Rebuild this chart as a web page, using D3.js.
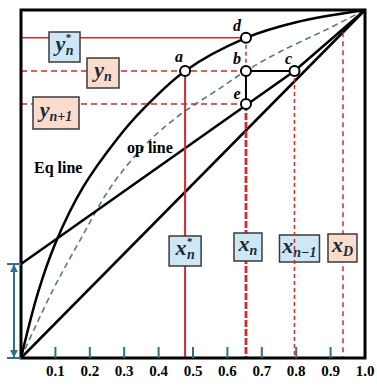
<!DOCTYPE html>
<html>
<head>
<meta charset="utf-8">
<script src="https://cdn.jsdelivr.net/npm/d3@7"></script>
<style>
  body { margin: 0; background: #fff; }
  svg text { font-family: "Liberation Serif", "DejaVu Serif", serif; }
</style>
</head>
<body>
<div id="chart"></div>
<script>
// equilibrium curve
const eqX = [0, 0.05, 0.10, 0.18, 0.28, 0.35, 0.477, 0.654, 0.80, 1];
const eqY = [0, 0.19, 0.33, 0.49, 0.63, 0.71, 0.825, 0.920, 0.965, 1];
// dashed (pseudo-equilibrium) curve
const dashX = [0, 0.09, 0.172, 0.26, 0.355, 0.45, 0.578, 0.654, 0.753, 0.88, 1];
const dashY = [0, 0.19, 0.339, 0.49, 0.606, 0.69, 0.775, 0.825, 0.88, 0.94, 1];
// operating line
const opX = [0, 0.795, 1];
const opY = [0.27, 0.825, 1];

const tickValues = [0.1, 0.2, 0.3, 0.4, 0.5, 0.6, 0.7, 0.8, 0.9, 1.0];
const tickLabels = ["0.1", "0.2", "0.3", "0.4", "0.5", "0.6", "0.7", "0.8", "0.9", "1.0"];

// key compositions
const xStar = 0.477, xn = 0.654, xn1 = 0.795, xD = 0.936;
const yStar = 0.920, yn = 0.825, yn1 = 0.730;
const intercept = 0.27;

const pointNames = ["a", "b", "c", "d", "e"];
const pointX = [xStar, xn, xn1, xn, xn];
const pointY = [yn, yn, yn, yStar, yn1];

const width = 377, height = 386;
const red = "#d42a2a", teal = "#2f6f8f";
const blueFill = "#cde7f5", peachFill = "#f9dccb";

const x = d3.scaleLinear().domain([0, 1]).range([21, 365]);
const y = d3.scaleLinear().domain([0, 1]).range([358, 10]);

let svg = d3.select("#chart").append("svg")
    .attr("width", width)
    .attr("height", height);

let line = d3.line().x(d => x(d[0])).y(d => y(d[1]));
let smooth = d3.line().x(d => x(d[0])).y(d => y(d[1])).curve(d3.curveCatmullRom.alpha(0.5));

// diagonal
svg.append("path").attr("d", line([[0, 0], [1, 1]]))
    .attr("fill", "none").attr("stroke", "#000").attr("stroke-width", 2.5);

// dashed curve
svg.append("path").attr("d", smooth(dashX.map((v, i) => [v, dashY[i]])))
    .attr("fill", "none").attr("stroke", "#557a8a").attr("stroke-width", 1.6)
    .attr("stroke-dasharray", "6,4");

// eq curve
svg.append("path").attr("d", smooth(eqX.map((v, i) => [v, eqY[i]])))
    .attr("fill", "none").attr("stroke", "#000").attr("stroke-width", 2.5);

// op line
svg.append("path").attr("d", line(opX.map((v, i) => [v, opY[i]])))
    .attr("fill", "none").attr("stroke", "#000").attr("stroke-width", 2.5);

// red guide lines
function guide(p, opts) {
    svg.append("path").attr("d", line(p))
        .attr("fill", "none").attr("stroke", red)
        .attr("stroke-width", opts.w || 1.5)
        .attr("stroke-dasharray", opts.dash || null);
}
guide([[0, yStar], [xn, yStar]], {});
guide([[0, yn], [xn, yn]], { dash: "6,4" });
guide([[0, yn1], [xn, yn1]], { dash: "6,4" });
guide([[xStar, yn], [xStar, 0]], { w: 2 });
guide([[xn, yStar], [xn, yn]], { w: 1.5, dash: "4,3" });
guide([[xn, yn1], [xn, 0]], { w: 2.8, dash: "7,2" });
guide([[xD, xD], [xD, 0]], { w: 1.5, dash: "5,4" });

// b-c and b-e segments
svg.append("path").attr("d", line([[xn1, yn], [xn, yn], [xn, yn1]]))
    .attr("fill", "none").attr("stroke", "#000").attr("stroke-width", 2);

// frame
svg.append("path")
    .attr("d", `M${x(0)},${y(1)}H${x(1)}V${y(0)}H${x(0)}Z`)
    .attr("fill", "none").attr("stroke", "#000").attr("stroke-width", 3);

// ticks
svg.append("g").selectAll("line").data(tickValues.slice(0, 9)).enter().append("line")
    .attr("x1", d => x(d)).attr("x2", d => x(d))
    .attr("y1", y(0)).attr("y2", y(0) - 11)
    .attr("stroke", teal).attr("stroke-width", 2);
svg.append("g").selectAll("text").data(tickValues).enter().append("text")
    .attr("x", d => x(d)).attr("y", 376)
    .attr("text-anchor", "middle")
    .attr("font-size", 15).attr("font-weight", "bold")
    .text((d, i) => tickLabels[i]);

// intercept double arrow
let defs = svg.append("defs");
defs.append("marker").attr("id", "arr").attr("viewBox", "0 0 10 10")
    .attr("refX", 9).attr("refY", 5).attr("markerWidth", 4).attr("markerHeight", 4)
    .attr("orient", "auto-start-reverse")
    .append("path").attr("d", "M0,0L10,5L0,10Z").attr("fill", teal);
svg.append("line").attr("x1", 14).attr("x2", 14)
    .attr("y1", y(intercept) + 1).attr("y2", y(0) - 1)
    .attr("stroke", teal).attr("stroke-width", 2)
    .attr("marker-start", "url(#arr)").attr("marker-end", "url(#arr)");
[intercept, 0].forEach(v => {
    svg.append("line").attr("x1", 7).attr("x2", 21)
        .attr("y1", y(v)).attr("y2", y(v))
        .attr("stroke", teal).attr("stroke-width", 2);
});

// label boxes
function box(bx, by, bw, bh, fill, main, sub, sup) {
    svg.append("rect").attr("x", bx).attr("y", by).attr("width", bw).attr("height", bh)
        .attr("fill", fill).attr("stroke", "#3a3a3a").attr("stroke-width", 1.5);
    let t = svg.append("text")
        .attr("x", bx + bw / 2).attr("y", by + bh / 2 + 4)
        .attr("text-anchor", "middle")
        .attr("font-weight", "bold").attr("font-style", "italic")
        .attr("fill", "#1a2a3a");
    t.append("tspan").attr("font-size", 22).text(main);
    if (sup) {
        t.append("tspan").attr("font-size", 11).attr("dy", -10).text(sup);
        t.append("tspan").attr("font-size", 14).attr("dx", -5).attr("dy", 14).text(sub);
    } else {
        t.append("tspan").attr("font-size", 14).attr("dy", 4).text(sub);
    }
}
box(49, 32, 31, 30, blueFill, "y", "n", "*");
box(87, 58, 32, 30, peachFill, "y", "n");
box(33, 97, 46, 32, peachFill, "y", "n+1");

box(x(xStar) - 16, 236, 32, 30, blueFill, "x", "n", "*");
box(x(xn) - 12, 233, 28, 28, blueFill, "x", "n");
box(x(xn1) - 15, 235, 40, 27, blueFill, "x", "n\u22121");
box(x(xD) - 15, 234, 29, 28, peachFill, "x", "D");

// x_{n-1} guide drawn over its box
guide([[xn1, yn], [xn1, 0]], { w: 1.5, dash: "4,3" });

// points
svg.append("g").selectAll("circle").data(pointNames).enter().append("circle")
    .attr("cx", (d, i) => x(pointX[i])).attr("cy", (d, i) => y(pointY[i]))
    .attr("r", 5).attr("fill", "#fff").attr("stroke", "#000").attr("stroke-width", 2);
const pointDx = [-6, -9, -6, -9, -9];
const pointDy = [-9, -7, -7, -7, -5];
svg.append("g").selectAll("text").data(pointNames).enter().append("text")
    .attr("x", (d, i) => x(pointX[i]) + pointDx[i])
    .attr("y", (d, i) => y(pointY[i]) + pointDy[i])
    .attr("text-anchor", "middle")
    .attr("font-size", 16).attr("font-style", "italic").attr("font-weight", "bold")
    .text(d => d);

// line names
svg.append("text").attr("x", 34).attr("y", 173)
    .attr("font-size", 16).attr("font-weight", "bold").text("Eq line");
svg.append("text").attr("x", 127).attr("y", 153)
    .attr("font-size", 16).attr("font-weight", "bold").text("op line");
</script>
</body>
</html>
